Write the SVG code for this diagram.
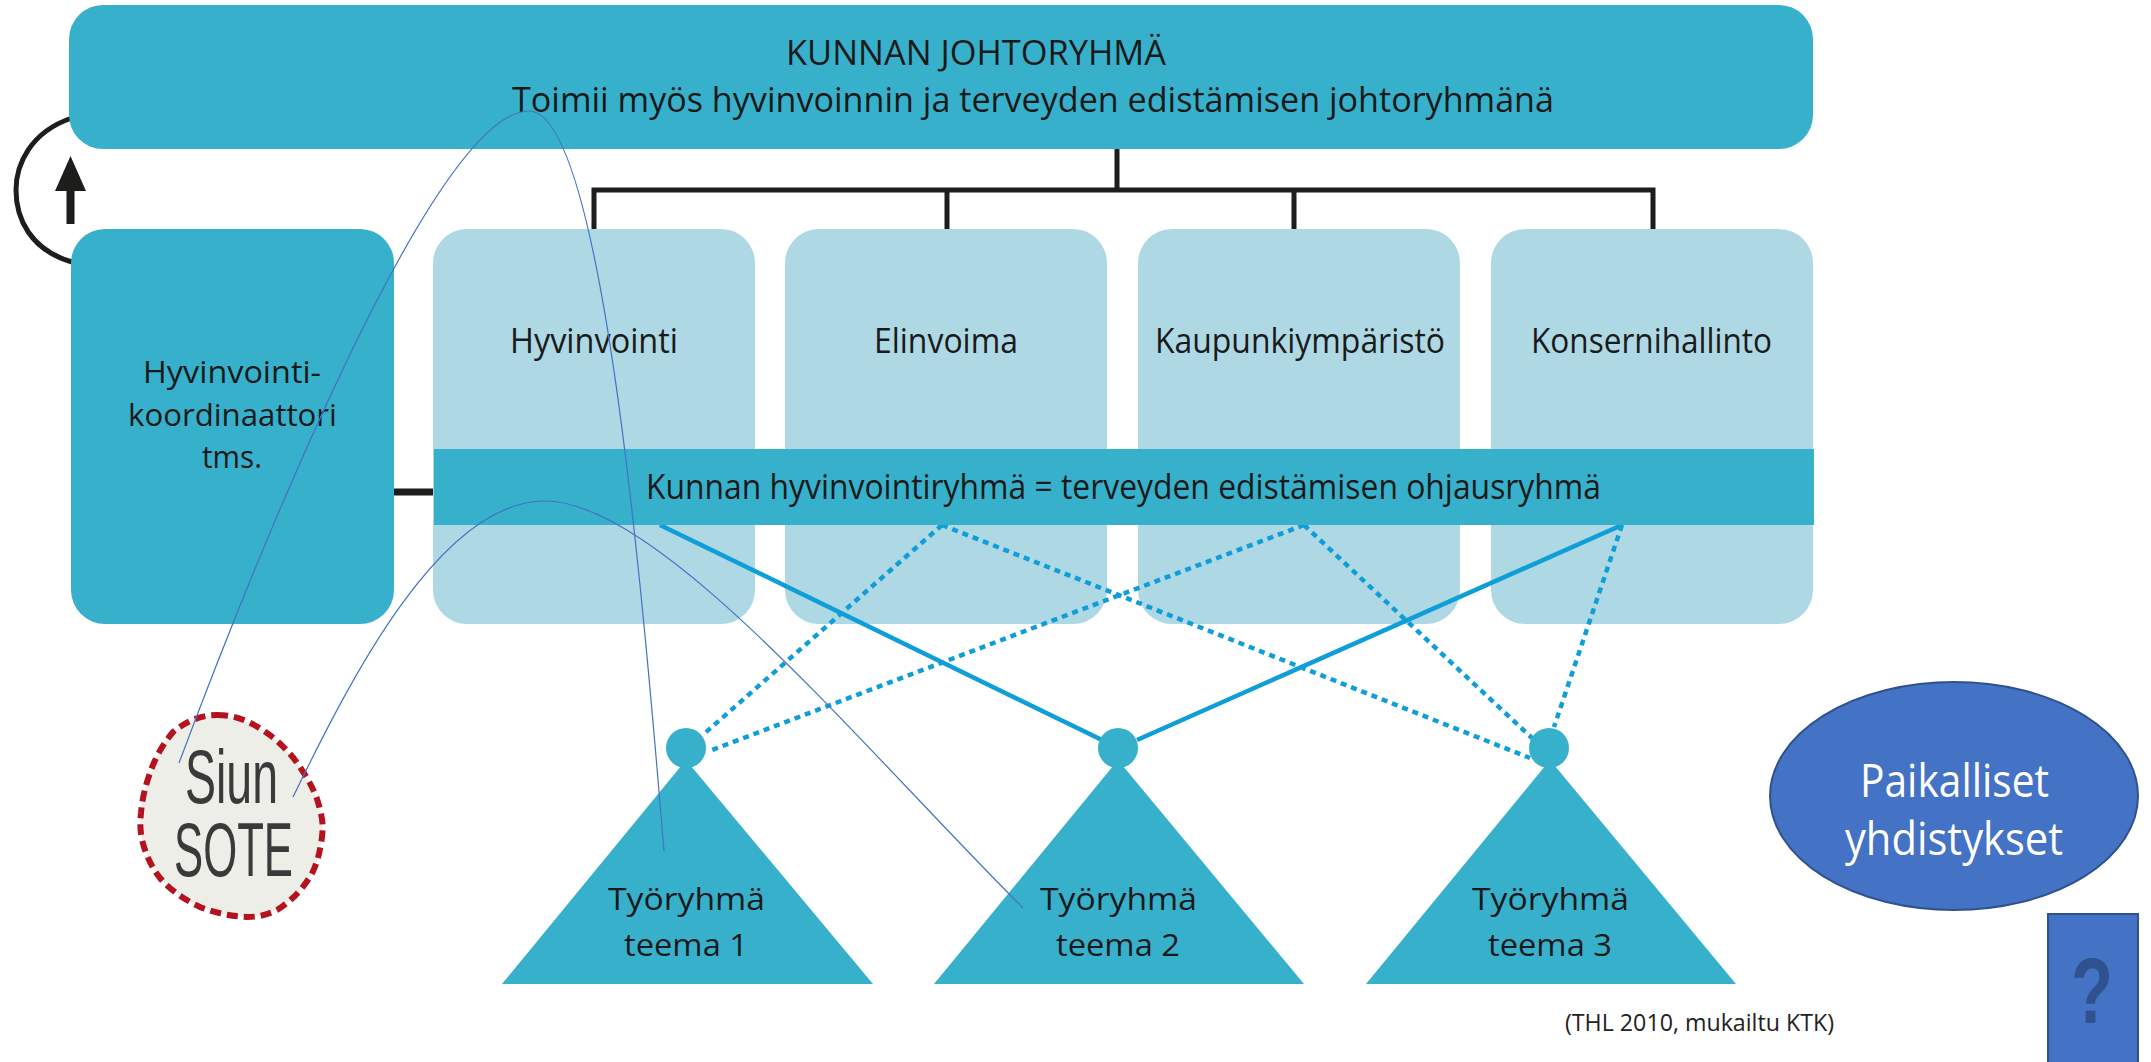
<svg xmlns="http://www.w3.org/2000/svg" width="2151" height="1062" viewBox="0 0 2151 1062">
<style>
.t{font-family:"Open Sans","Liberation Sans",sans-serif;fill:#1a1a1a;font-size:35px}
.s{font-size:31px}
.dark{fill:#37b0cb}
.light{fill:#afd8e5}
.blk{fill:none;stroke:#1d1d1b;stroke-width:5}
.sol{fill:none;stroke:#0f9ed8;stroke-width:4.500}
.dash{fill:none;stroke:#0f9ed8;stroke-width:4.500;stroke-dasharray:6 5}
.thin{fill:none;stroke:#4472c4;stroke-width:1.200}
.w{font-family:"Open Sans","Liberation Sans",sans-serif;fill:#fff;font-size:45px}
.logo{font-family:"Liberation Sans Narrow","Liberation Sans",sans-serif;fill:#3a3a3a;font-size:76px}
</style>
<g id="feedback-loop">
<path class="blk" d="M72 118 C30 132 16 165 16 190 C16 218 30 250 72 262"/>
<path fill="#1d1d1b" d="M66.500 224V191H55L70.500 156L86 191H74.500V224Z"/>
</g>
<g id="connectors-black">
<path class="blk" d="M1117 149V190M594 229V190H1653V229M947 190V229M1294 190V229"/>
<path d="M394 492H434" fill="none" stroke="#1d1d1b" stroke-width="7"/>
</g>
<g id="johtoryhma">
<rect class="dark" x="69" y="5" width="1744" height="144" rx="34"/>
<text class="t" x="786" y="65" textLength="380" lengthAdjust="spacingAndGlyphs">KUNNAN JOHTORYHMÄ</text>
<text class="t" x="512" y="112" textLength="1042" lengthAdjust="spacingAndGlyphs">Toimii myös hyvinvoinnin ja terveyden edistämisen johtoryhmänä</text>
</g>
<g id="koordinaattori">
<rect class="dark" x="71" y="229" width="323" height="395" rx="34"/>
<text class="t s" x="143" y="383" textLength="178" lengthAdjust="spacingAndGlyphs">Hyvinvointi-</text>
<text class="t s" x="128" y="426" textLength="209" lengthAdjust="spacingAndGlyphs">koordinaattori</text>
<text class="t s" x="202" y="468" textLength="60" lengthAdjust="spacingAndGlyphs">tms.</text>
</g>
<g id="hyvinvointi">
<rect class="light" x="433" y="229" width="322" height="395" rx="34"/>
<text class="t" x="510" y="353" textLength="168" lengthAdjust="spacingAndGlyphs">Hyvinvointi</text>
</g>
<g id="elinvoima">
<rect class="light" x="785" y="229" width="322" height="395" rx="34"/>
<text class="t" x="874" y="353" textLength="144" lengthAdjust="spacingAndGlyphs">Elinvoima</text>
</g>
<g id="kaupunkiymparisto">
<rect class="light" x="1138" y="229" width="322" height="395" rx="34"/>
<text class="t" x="1155" y="353" textLength="290" lengthAdjust="spacingAndGlyphs">Kaupunkiympäristö</text>
</g>
<g id="konsernihallinto">
<rect class="light" x="1491" y="229" width="322" height="395" rx="34"/>
<text class="t" x="1531" y="353" textLength="241" lengthAdjust="spacingAndGlyphs">Konsernihallinto</text>
</g>
<g id="connectors-blue">
<path class="sol" d="M660 525L1102 740"/>
<path class="sol" d="M1137 740L1622 525"/>
<path class="dash" d="M942 525L705 733"/>
<path class="dash" d="M942 525L1530 758"/>
<path class="dash" d="M1304 525L712 750"/>
<path class="dash" d="M1304 525L1532 738"/>
<path class="dash" d="M1622 525L1554 727"/>
</g>
<g id="hyvinvointiryhma">
<rect class="dark" x="434" y="449" width="1380" height="76"/>
<text class="t" x="646" y="499" textLength="955" lengthAdjust="spacingAndGlyphs">Kunnan hyvinvointiryhmä = terveyden edistämisen ohjausryhmä</text>
</g>
<g id="tyoryhma1">
<circle class="dark" cx="686" cy="748" r="20"/>
<path class="dark" d="M686 760L873 984H502Z"/>
<text class="t s" x="608" y="910" textLength="157" lengthAdjust="spacingAndGlyphs">Työryhmä</text>
<text class="t s" x="624" y="956" textLength="124" lengthAdjust="spacingAndGlyphs">teema 1</text>
</g>
<g id="tyoryhma2">
<circle class="dark" cx="1118" cy="748" r="20"/>
<path class="dark" d="M1118 760L1304 984H934Z"/>
<text class="t s" x="1040" y="910" textLength="157" lengthAdjust="spacingAndGlyphs">Työryhmä</text>
<text class="t s" x="1056" y="956" textLength="124" lengthAdjust="spacingAndGlyphs">teema 2</text>
</g>
<g id="tyoryhma3">
<circle class="dark" cx="1549" cy="748" r="20"/>
<path class="dark" d="M1550 760L1736 984H1366Z"/>
<text class="t s" x="1472" y="910" textLength="157" lengthAdjust="spacingAndGlyphs">Työryhmä</text>
<text class="t s" x="1488" y="956" textLength="124" lengthAdjust="spacingAndGlyphs">teema 3</text>
</g>
<g id="siunsote">
<path fill="#eeeee8" stroke="#b5121f" stroke-width="6" stroke-dasharray="11 6" d="M217 715C240 715 255 725 267 733C280 742 292 755 300 767C310 782 317 795 320 810C323 820 323 828 322 837C320 852 317 865 310 877C300 892 290 902 277 910C265 916 255 917 247 917C230 916 215 913 200 907C185 900 170 890 160 878C150 865 145 852 142 840C140 830 140 822 141 813C142 800 145 787 150 773C155 758 163 744 173 732C185 722 200 715 217 715Z"/>
<text class="logo" x="185" y="803" textLength="93" lengthAdjust="spacingAndGlyphs">Siun</text>
<text class="logo" x="174" y="876" textLength="119" lengthAdjust="spacingAndGlyphs">SOTE</text>
</g>
<g id="yhdistykset">
<ellipse cx="1954" cy="796" rx="184" ry="114" fill="#4472c4" stroke="#2f528f" stroke-width="2"/>
<text class="w" x="1860" y="797" textLength="189" lengthAdjust="spacingAndGlyphs">Paikalliset</text>
<text class="w" x="1845" y="855" textLength="218" lengthAdjust="spacingAndGlyphs">yhdistykset</text>
</g>
<g id="kysymys">
<rect x="2048" y="914" width="90" height="150" fill="#4472c4" stroke="#2f528f" stroke-width="2"/>
<text x="2071" y="1023" font-family="'Liberation Sans',sans-serif" font-weight="700" font-size="92" fill="#2f528f" textLength="42" lengthAdjust="spacingAndGlyphs">?</text>
</g>
<text x="1565" y="1031" font-family="'Open Sans','Liberation Sans',sans-serif" font-size="23" fill="#222" textLength="269" lengthAdjust="spacingAndGlyphs">(THL 2010, mukailtu KTK)</text>
<g id="connectors-thin">
<path class="thin" d="M179 763C240 600 430 111 529 111C600 111 640 560 664 851"/>
<path class="thin" d="M293 797C350 680 440 501 545 501C660 501 860 745 1023 908"/>
</g>
</svg>
